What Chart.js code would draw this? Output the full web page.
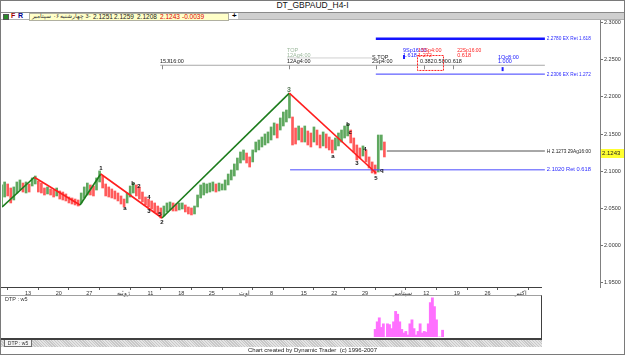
<!DOCTYPE html>
<html><head><meta charset="utf-8">
<script src="https://cdn.jsdelivr.net/npm/chart.js@4/dist/chart.umd.min.js"></script>
<style>
html,body{margin:0;padding:0;background:#fff;}
#wrap{position:relative;width:625px;height:355px;overflow:hidden;font-family:"Liberation Sans",Arial,sans-serif;background:#fff;}
.a{position:absolute;white-space:nowrap;}
canvas{position:absolute;left:0;}
</style></head><body>
<div id="wrap">
  <div class="a" style="left:0;top:0;width:625px;text-align:center;font-size:8.5px;line-height:11px;color:#111">DT_GBPAUD_H4-I</div>
  <div class="a" style="left:0;top:12px;width:625px;height:1px;background:#8a8a8a"></div>
  <div class="a" style="left:238px;top:13px;width:387px;height:6px;background:#cfcfcf"></div>
  <div class="a" style="left:0;top:19px;width:625px;height:1px;background:#b0b0b0"></div>
  <div class="a" style="left:3px;top:14px;width:4px;height:4px;background:#2a8a2a;border:1px solid #555"></div>
  <div class="a" style="left:11px;top:12px;font-size:7px;font-weight:bold;color:#a00000">F</div>
  <div class="a" style="left:18px;top:12px;font-size:7px;font-weight:bold;color:#000090">R</div>
  <div class="a" style="left:29px;top:13px;width:198px;height:6px;background:#ffffc8;border:1px solid #b0b0a0"></div>
  <div class="a" style="left:32px;top:13px;font-size:5.5px;color:#333" dir="rtl">-3 چهارشنبه ۰۶ سپتامبر</div>
  <div class="a" style="left:93px;top:12.5px;font-size:6.5px;color:#222">2.1251</div>
  <div class="a" style="left:114px;top:12.5px;font-size:6.5px;color:#222">2.1259</div>
  <div class="a" style="left:137px;top:12.5px;font-size:6.5px;color:#222">2.1208</div>
  <div class="a" style="left:160px;top:12.5px;font-size:6.5px;color:#e00000">2.1243</div>
  <div class="a" style="left:182px;top:12.5px;font-size:6.5px;color:#e00000">-0.0039</div>
  <div class="a" style="left:232px;top:11px;font-size:8px;font-weight:bold;color:#000">+</div>

  <canvas id="main" width="625" height="300" style="top:0"></canvas>

  <div class="a" style="left:1px;top:295px;width:540px;height:42px;border-top:1px solid #a0a0a0;border-right:1px solid #404040;border-bottom:2px solid #404040"></div>
  <div class="a" style="left:5px;top:296px;font-size:5.5px;color:#333">DTP : w5</div>
  <canvas id="ind" width="625" height="45" style="top:295px"></canvas>
  <div class="a" style="left:1px;top:340px;width:541px;height:7px;background:repeating-linear-gradient(45deg,#c8c8c8 0 1px,#e4e4e4 1px 2px)"></div>
  <div class="a" style="left:4px;top:340px;width:26px;height:6px;background:#f4f4f4;border:1px solid #707070;border-top:none;font-size:5px;line-height:6px;text-align:center;color:#333">DTP : w5</div>
  <div class="a" style="left:0;top:347px;width:625px;text-align:center;font-size:6px;line-height:7px;color:#222">Chart created by Dynamic Trader&nbsp; (c) 1996-2007</div>
  <div class="a" style="left:0;top:0;width:625px;height:355px;border:1px solid #7a7a7a;box-sizing:border-box"></div>
</div>
<script>
// ---------- data ----------
const dayStart = -3.5;   // trading days from Mon 13 Jun 2005
const dayStep = 0.5;
const priceHigh = [
 2.0817,2.0857,2.0830,2.0776,2.0790,2.0857,2.0884,2.0843,2.0857,2.0830,
 2.0911,2.0937,2.0870,2.0843,2.0776,2.0790,2.0763,2.0749,2.0776,2.0736,
 2.0722,2.0696,2.0655,2.0642,2.0628,2.0615,2.0709,2.0790,2.0843,2.0817,
 2.0803,2.0911,2.1005,2.0937,2.0830,2.0790,2.0763,2.0736,2.0709,2.0669,
 2.0628,2.0709,2.0803,2.0843,2.0817,2.0790,2.0722,2.0655,2.0628,2.0602,
 2.0575,2.0534,2.0508,2.0534,2.0575,2.0588,2.0575,2.0561,2.0575,2.0575,
 2.0548,2.0521,2.0508,2.0534,2.0682,2.0817,2.0843,2.0830,2.0843,2.0857,
 2.0830,2.0843,2.0830,2.0884,2.0964,2.1018,2.1099,2.1179,2.1260,2.1287,
 2.1246,2.1193,2.1287,2.1394,2.1421,2.1461,2.1502,2.1529,2.1596,2.1650,
 2.1636,2.1717,2.1797,2.1824,2.2040,2.1730,2.1582,2.1609,2.1582,2.1609,
 2.1542,2.1515,2.1596,2.1555,2.1488,2.1529,2.1502,2.1461,2.1421,2.1448,
 2.1515,2.1555,2.1609,2.1636,2.1555,2.1448,2.1354,2.1314,2.1341,2.1287,
 2.1193,2.1126,2.1085,2.1488,2.1488,2.1394];
const priceLow = [
 2.0521,2.0655,2.0669,2.0575,2.0615,2.0709,2.0749,2.0722,2.0709,2.0722,
 2.0803,2.0830,2.0722,2.0709,2.0682,2.0696,2.0682,2.0655,2.0669,2.0628,
 2.0615,2.0602,2.0575,2.0561,2.0548,2.0534,2.0575,2.0642,2.0682,2.0682,
 2.0669,2.0749,2.0857,2.0776,2.0669,2.0655,2.0642,2.0628,2.0602,2.0561,
 2.0521,2.0575,2.0655,2.0709,2.0669,2.0628,2.0588,2.0548,2.0521,2.0494,
 2.0454,2.0427,2.0373,2.0400,2.0454,2.0481,2.0467,2.0467,2.0481,2.0494,
 2.0454,2.0427,2.0414,2.0427,2.0521,2.0642,2.0682,2.0709,2.0722,2.0736,
 2.0722,2.0736,2.0749,2.0749,2.0817,2.0884,2.0937,2.1018,2.1112,2.1152,
 2.1112,2.1058,2.1126,2.1260,2.1287,2.1327,2.1354,2.1381,2.1421,2.1488,
 2.1448,2.1555,2.1609,2.1663,2.1717,2.1354,2.1367,2.1421,2.1394,2.1394,
 2.1354,2.1327,2.1394,2.1354,2.1314,2.1341,2.1314,2.1287,2.1246,2.1287,
 2.1341,2.1394,2.1448,2.1475,2.1381,2.1260,2.1152,2.1179,2.1206,2.1126,
 2.1045,2.0978,2.0964,2.0991,2.1287,2.1193];
const lastPrice = 2.1243;

const waveDays   = [-3.4, 1.84, 9.31, 12.69, 22.69, 43.48, 57.63];
const wavePrices = [2.0521, 2.0920, 2.0548, 2.0964, 2.0373, 2.2051, 2.0978];
const waveLabelText  = ['1','a','b','2','4','3','5','2','3','a','b','c','3','4','5','q'];
const waveLabelDay   = [12.73,16.65,17.96,18.94,20.57,20.57,22.37,22.69,43.43,50.6,53.06,53.4,54.5,55.8,57.6,58.6];
const waveLabelPrice = [2.1035,2.0500,2.0845,2.0800,2.0655,2.0462,2.0420,2.0315,2.2095,2.1200,2.1625,2.1530,2.1110,2.1290,2.0905,2.1015];

const refNames  = ['2.2780 EX Ret 1.618','2.2306 EX Ret 1.272','H 2.1273 29Ag16:00','2.1020 Ret 0.618'];
const refLevels = [2.2780, 2.2306, 2.1273, 2.1020];
const refStart  = [57.6, 57.6, 59.4, 43.6];
const refEnd    = 85.2;
const timeLineLevels = [2.2425, 2.2523];
const timeLineStart  = [22.4, 43.1];
const timeLineEnd    = [85.2, 57.0];

const noteText  = ['15Jl16:00','12Ag4:00','TOP','12Ag4:00','S.TOP','2Sp4:00','9Sp16:00','1.618','15Sp4:00','1.272','22Sp16:00','0.618','0.382','0.500','0.618','1Oc8:00','1.000'];
const noteDay   = [22.37,43.1,43.1,43.1,56.98,56.98,62.04,62.04,64.5,64.5,70.9,70.9,64.8,67.1,69.4,77.55,77.55];
const notePrice = [2.2469,2.2469,2.2630,2.2563,2.2523,2.2469,2.2617,2.2563,2.2630,2.2563,2.2617,2.2563,2.2469,2.2469,2.2469,2.2523,2.2469];
const timeTickDays = [22.69, 43.48, 57.63, 65.5, 70.2];

const yTicks = [1.95, 2.00, 2.05, 2.10, 2.15, 2.20, 2.25, 2.30];
const xTickDays = [0,5,10,15,20,25,30,35,40,45,50,55,60,65,70,75,80];
const xTickLabels = ['13','20','27','ژوئیه','11','18','25','اوت','8','15','22','29','سپتامبر','12','19','26','اکتبر'];

const dtpStart = 57.5;
const dtpStep = 1/3;
const dtpValues = [19,38,48,24,33,0,33,31,21,38,64,57,38,19,10,14,5,33,43,21,5,14,33,10,14,12,33,86,98,76,43,0,0,17];

// ---------- layout constants ----------
const xMin = -3.43, xMax = 94.2, xAxisEnd = 84.73;
const yMin = 1.9446, yMax = 2.3033;

const UP = '#5fa85f', DOWN = '#ff5a5a';
const barColors = priceHigh.map((h,i)=>{
  const m = (h+priceLow[i])/2;
  const pm = i>0 ? (priceHigh[i-1]+priceLow[i-1])/2 : m;
  return m >= pm ? UP : DOWN;
});
const noteColors = ['#222','#222','#9cb89c','#9cb89c','#222','#222','#2020ff','#2020ff','#ff2020','#ff2020','#ff2020','#ff2020','#222','#222','#222','#2020ff','#2020ff'];
const refColors = ['#1414ff','#3a3aff','#505050','#4a4aff'];
const refWidths = [2.5,1,1,1];
const refTextColors = ['#2a2aff','#2a2aff','#222','#2a2aff'];

const FONT = '"Liberation Sans", Arial, sans-serif';

const overlay = {
  id:'overlay',
  afterDatasetsDraw(chart){
    const {ctx, scales:{x,y}} = chart;
    ctx.save();
    ctx.strokeStyle = '#888'; ctx.lineWidth = 1;
    timeTickDays.forEach(d=>{
      const px = Math.round(x.getPixelForValue(d))+0.5, py = y.getPixelForValue(timeLineLevels[0]);
      ctx.beginPath(); ctx.moveTo(px,py); ctx.lineTo(px,py+4); ctx.stroke();
    });
    ctx.strokeStyle = '#2020ff'; ctx.lineWidth = 2;
    [[62.2,2.2563],[78.3,2.2400]].forEach(([d,p])=>{
      const px = x.getPixelForValue(d), py = y.getPixelForValue(p);
      ctx.beginPath(); ctx.moveTo(px,py); ctx.lineTo(px,py+4); ctx.stroke();
    });
    ctx.strokeStyle = '#ff2020'; ctx.lineWidth = 1;
    ctx.setLineDash([2,1]);
    const rx0 = x.getPixelForValue(64.33), rx1 = x.getPixelForValue(68.57);
    const ry0 = y.getPixelForValue(2.2563), ry1 = y.getPixelForValue(2.2362);
    ctx.strokeRect(Math.round(rx0)+0.5, Math.round(ry0)+0.5, rx1-rx0, ry1-ry0);
    ctx.setLineDash([]);
    ctx.textBaseline = 'middle'; ctx.textAlign = 'left';
    ctx.font = '5.5px ' + FONT;
    noteText.forEach((t,i)=>{
      ctx.fillStyle = noteColors[i];
      ctx.fillText(t, x.getPixelForValue(noteDay[i]), y.getPixelForValue(notePrice[i]), 24);
    });
    ctx.font = '6px ' + FONT;
    refNames.forEach((t,i)=>{
      ctx.fillStyle = refTextColors[i];
      ctx.fillText(t, x.getPixelForValue(refEnd)+2, y.getPixelForValue(refLevels[i]), 44);
    });
    ctx.textAlign = 'center';
    waveLabelText.forEach((t,i)=>{
      const big = (i===8);
      ctx.font = (big?'bold 7px ':'bold 6px ') + FONT;
      ctx.fillStyle = big ? '#5a7a5a' : '#111';
      ctx.fillText(t, x.getPixelForValue(waveLabelDay[i]), y.getPixelForValue(waveLabelPrice[i]));
    });
    ctx.restore();
  },
  afterDraw(chart){
    const {ctx, scales:{x,y}, chartArea} = chart;
    ctx.save();
    ctx.strokeStyle = '#404040'; ctx.lineWidth = 1;
    const by = Math.round(chartArea.bottom)+0.5;
    ctx.beginPath(); ctx.moveTo(0,by); ctx.lineTo(x.getPixelForValue(xAxisEnd), by); ctx.stroke();
    const py = y.getPixelForValue(lastPrice);
    ctx.fillStyle = '#ffff30';
    ctx.fillRect(chartArea.right+1, Math.round(py)-4, 24, 9);
    ctx.fillStyle = '#222'; ctx.font = '6px ' + FONT; ctx.textAlign='left'; ctx.textBaseline='middle';
    ctx.fillText(lastPrice.toFixed(4), chartArea.right+2, py+0.5);
    ctx.restore();
  }
};

const refDatasets = refLevels.map((lv,i)=>({
  type:'line', data:[{x:refStart[i],y:lv},{x:refEnd,y:lv}],
  borderColor: refColors[i], borderWidth: refWidths[i], pointRadius:0, order:1
}));
const timeDatasets = timeLineLevels.map((lv,i)=>({
  type:'line', data:[{x:timeLineStart[i],y:lv},{x:timeLineEnd[i],y:lv}],
  borderColor: i===0 ? '#a8a8a8' : '#d0d0d0', borderWidth:1, pointRadius:0, order:1
}));

new Chart(document.getElementById('main'), {
  type:'bar',
  data:{datasets:[
    {type:'line', data: waveDays.map((d,i)=>({x:d,y:wavePrices[i]})), borderWidth:1.6, pointRadius:0, tension:0,
     segment:{borderColor: c => c.p1.parsed.y > c.p0.parsed.y ? '#1c7c1c' : '#ff1e1e'}, borderColor:'#1c7c1c', order:0},
    ...refDatasets, ...timeDatasets,
    {type:'bar', data: priceHigh.map((h,i)=>({x: dayStart+i*dayStep, y:[priceLow[i], h]})),
     backgroundColor: barColors, barThickness:2, order:5}
  ]},
  options:{
    responsive:false, animation:false, devicePixelRatio:1,
    layout:{padding:{top:20,left:2,right:0,bottom:0}},
    plugins:{legend:{display:false}, tooltip:{enabled:false}},
    scales:{
      x:{type:'linear', min:xMin, max:xMax, offset:false,
         afterFit(s){ s.height = 13; },
         afterBuildTicks(s){ s.ticks = xTickDays.map(v=>({value:v})); },
         ticks:{callback:(v,i)=>xTickLabels[i], align:'start', labelOffset:2, padding:0, maxRotation:0, autoSkip:false,
                font:{size:5.5, family:FONT}, color:'#333'},
         grid:{drawOnChartArea:false, tickLength:3, color:'#606060'}, border:{display:false}},
      y:{position:'right', min:yMin, max:yMax,
         afterFit(s){ s.width = 25; },
         afterBuildTicks(s){ s.ticks = yTicks.map(v=>({value:v})); },
         ticks:{callback:v=>v.toFixed(4), padding:1, font:{size:5.5, family:FONT}, color:'#333'},
         grid:{drawOnChartArea:false, tickLength:3, color:'#707070'}, border:{color:'#808080'}}
    }
  },
  plugins:[overlay]
});

new Chart(document.getElementById('ind'), {
  type:'bar',
  data:{datasets:[{data: dtpValues.map((v,i)=>({x: dtpStart+i*dtpStep, y:v})), backgroundColor:'#ff70ff', barThickness:2.2}]},
  options:{
    responsive:false, animation:false, devicePixelRatio:1,
    layout:{padding:{left:2,right:83,top:2,bottom:3}},
    plugins:{legend:{display:false}, tooltip:{enabled:false}},
    scales:{x:{type:'linear', display:false, min:xMin, max:xAxisEnd, offset:false},
            y:{display:false, min:0, max:100}}
  }
});
</script>
</body></html>
